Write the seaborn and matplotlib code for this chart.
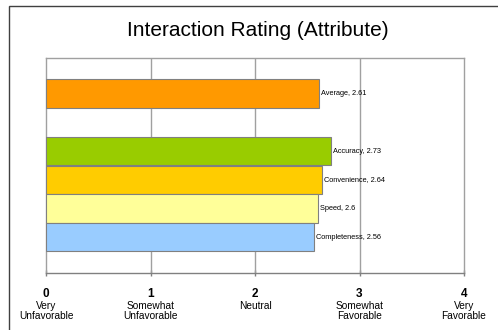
import matplotlib
matplotlib.use("Agg")
import matplotlib.pyplot as plt
from matplotlib.patches import Rectangle
import seaborn as sns
import pandas as pd

categories = ["Average", "Accuracy", "Convenience", "Speed", "Completeness"]
values = [2.61, 2.73, 2.64, 2.6, 2.56]
colors = ["#FF9900", "#99CC00", "#FFCC00", "#FFFF99", "#99CCFF"]
slot_order = ["Average", " ", "Accuracy", "Convenience", "Speed", "Completeness"]
tick_values = [0, 1, 2, 3, 4]
tick_texts = ["Very\nUnfavorable", "Somewhat\nUnfavorable", "Neutral",
              "Somewhat\nFavorable", "Very\nFavorable"]
title = "Interaction Rating (Attribute)"

sns.set_style("white")
plt.rcParams["font.family"] = ["Liberation Sans", "DejaVu Sans"]
plt.rcParams["text.color"] = "black"

df = pd.DataFrame({"cat": categories, "val": values})

fig = plt.figure(figsize=(4.98, 3.3), dpi=100)
fig.patch.set_facecolor("white")
# outer frame (cropped at right/bottom)
fig.patches.append(Rectangle((9 / 498, -0.1), 1.2, (330 - 6) / 330 + 0.1,
                             transform=fig.transFigure, fill=False,
                             edgecolor="#404040", linewidth=1.0))

ax = fig.add_axes([46 / 498, 57 / 330, 418 / 498, 215 / 330])
sns.barplot(data=df, x="val", y="cat", hue="cat", order=slot_order,
            palette=dict(zip(categories, colors)), orient="h", width=1.0,
            saturation=1, edgecolor="#808080", linewidth=0.8, legend=False,
            ax=ax, zorder=3)

ax.set_xlim(0, 4)
ax.set_ylim(6.25, -1.25)
for x in [1, 2, 3]:
    ax.axvline(x, color="#A0A0A0", linewidth=1.0, zorder=1)
for s in ["top", "right", "left", "bottom"]:
    ax.spines[s].set_visible(True)
    ax.spines[s].set_color("#A0A0A0")
    ax.spines[s].set_linewidth(1.0)
ax.spines["bottom"].set_color("#808080")

ax.set_yticks([])
ax.set_ylabel("")
ax.set_xlabel("")
ax.set_xticks(tick_values)
ax.set_xticklabels([])
ax.tick_params(axis="x", direction="inout", length=5, color="#808080", width=1.0,
               bottom=True)

pos = {c: i for i, c in enumerate(slot_order)}
for c, v in zip(categories, values):
    ax.text(v + 0.02, pos[c], f"{c}, {v:g}", va="center", ha="left",
            fontsize=5.3, color="black", zorder=4)

trans = ax.get_xaxis_transform()
for tv, tt in zip(tick_values, tick_texts):
    ax.text(tv, -0.068, str(tv), transform=trans, ha="center", va="top",
            fontsize=8.5, fontweight="bold", clip_on=False)
    ax.text(tv, -0.128, tt, transform=trans, ha="center", va="top",
            fontsize=7.3, linespacing=1.1, clip_on=False)

fig.text(258 / 498, 1 - 31 / 330, title, ha="center", va="center", fontsize=15)

fig.savefig("out.png", dpi=100)
